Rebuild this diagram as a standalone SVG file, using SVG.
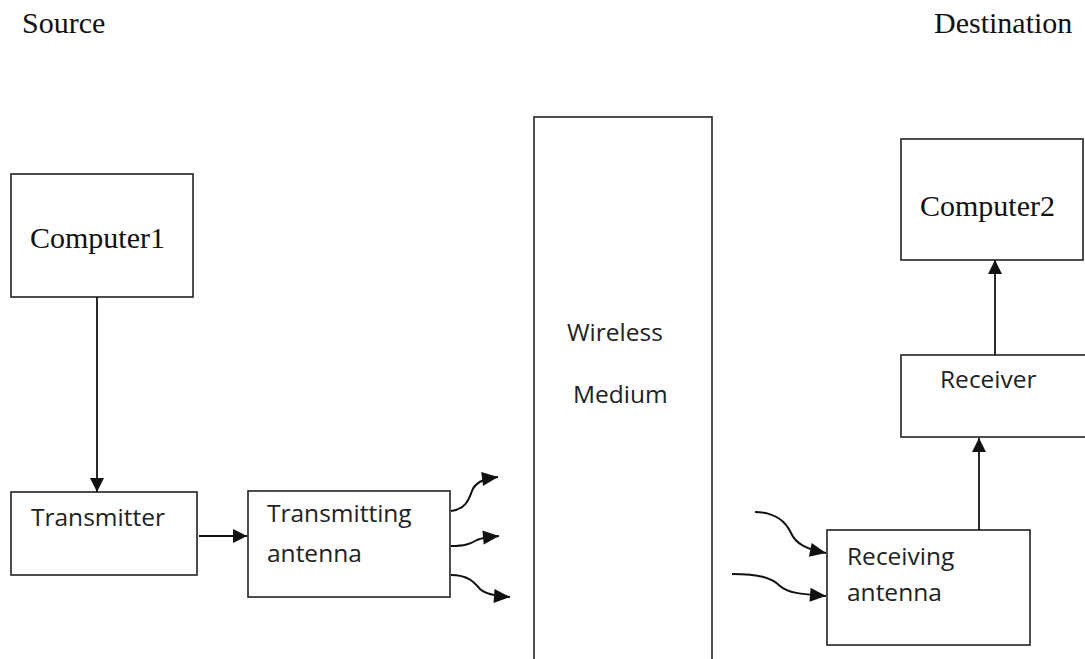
<svg xmlns="http://www.w3.org/2000/svg" width="1085" height="659" viewBox="0 0 1085 659">
<defs>
<style>
.box{fill:#fff;stroke:#222;stroke-width:1.6}
.serif{font-family:"Liberation Serif","Times New Roman",serif;font-size:30px;fill:#111}
.sans{font-family:"Open Sans","Noto Sans",sans-serif;font-size:24.5px;fill:#222}
.conn{fill:none;stroke:#111;stroke-width:1.8}
.wave{fill:none;stroke:#111;stroke-width:2}
</style>
<marker id="ah" markerUnits="userSpaceOnUse" markerWidth="16" markerHeight="16" viewBox="0 0 16 16" refX="15" refY="8" orient="auto">
<path d="M1,1 L15,8 L1,15 Z" fill="#111"/>
</marker>
<marker id="ahw" markerUnits="userSpaceOnUse" markerWidth="18" markerHeight="16" viewBox="0 0 18 16" refX="17" refY="8" orient="auto">
<path d="M1,1 L17,8 L1,15 Z" fill="#111"/>
</marker>
</defs>
<rect width="1085" height="659" fill="#fff"/>
<text class="serif" x="22" y="33">Source</text>
<text class="serif" x="934" y="33">Destination</text>

<g id="computer1">
<rect class="box" x="11" y="174" width="182" height="123"/>
<text class="serif" x="30" y="248">Computer1</text>
</g>
<g id="transmitter">
<rect class="box" x="11" y="492" width="186" height="83"/>
<text class="sans" x="31" y="526">Transmitter</text>
</g>
<g id="transmitting-antenna">
<rect class="box" x="248" y="491" width="202" height="106"/>
<text class="sans" x="267" y="522">Transmitting</text>
<text class="sans" x="267" y="562">antenna</text>
</g>
<g id="wireless-medium">
<rect class="box" x="534" y="117" width="178" height="560"/>
<text class="sans" x="567" y="341">Wireless</text>
<text class="sans" x="573" y="403">Medium</text>
</g>
<g id="computer2">
<rect class="box" x="901" y="139" width="182" height="121"/>
<text class="serif" x="920" y="216">Computer2</text>
</g>
<g id="receiver">
<rect class="box" x="901" y="355" width="200" height="82"/>
<text class="sans" x="940" y="388">Receiver</text>
</g>
<g id="receiving-antenna">
<rect class="box" x="827" y="530" width="203" height="115"/>
<text class="sans" x="847" y="565">Receiving</text>
<text class="sans" x="847" y="601">antenna</text>
</g>

<g id="connectors">
<path class="conn" d="M97,297 L97,492" marker-end="url(#ah)"/>
<path class="conn" d="M199,536 L247,536" marker-end="url(#ah)"/>
<path class="conn" d="M979,530 L979,438" marker-end="url(#ah)"/>
<path class="conn" d="M995,355 L995,260" marker-end="url(#ah)"/>
<path class="wave" d="M451,511 C466,509 469,499 472,491 C475,483 482,479 498,477" marker-end="url(#ahw)"/>
<path class="wave" d="M451,546 C465,546 470,544 477,540 C483,537 488,537 499,536" marker-end="url(#ahw)"/>
<path class="wave" d="M451,575 C468,575 474,582 480,589 C485,594 495,596 510,597" marker-end="url(#ahw)"/>
<path class="wave" d="M755,512 C775,512 786,522 791,533 C796,544 806,549 826,553" marker-end="url(#ahw)"/>
<path class="wave" d="M732,574 C760,574 772,578 780,586 C788,593 800,594 826,596" marker-end="url(#ahw)"/>
</g>
</svg>
